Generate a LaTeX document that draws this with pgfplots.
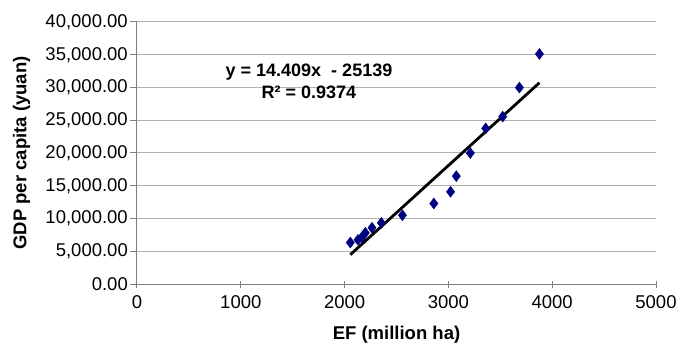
\documentclass[border=0pt]{standalone}
\usepackage{pgfplots}
\pgfplotsset{compat=1.18}
\usepackage{fontspec}
\setmainfont{Liberation Sans}
\definecolor{navyblue}{RGB}{0,0,128}
\definecolor{gridgray}{RGB}{176,176,176}
\definecolor{axisgray}{RGB}{128,128,128}
\begin{document}
\fontsize{18bp}{22bp}\selectfont
\begin{tikzpicture}
\begin{axis}[
  at={(0,0)}, anchor=south west,
  scale only axis, width=519bp, height=262bp,
  xmin=0, xmax=5000, ymin=0, ymax=40000,
  xtick={0,1000,...,5000}, ytick={0,5000,...,40000},
  axis x line=bottom, axis y line=left,
  axis line style={-, axisgray, line width=1bp},
  every tick/.style={axisgray, line width=1bp},
  major tick length=7bp,
  xtick align=center, ytick align=outside,
  ymajorgrids, grid style={gridgray, line width=1bp},
  /pgf/number format/assume math mode=true,
  yticklabel style={/pgf/number format/.cd, fixed, fixed zerofill, precision=2, 1000 sep={,}, /tikz/xshift=4bp},
  xticklabel style={/pgf/number format/.cd, fixed, 1000 sep={}, /tikz/yshift=-2bp},
  scaled ticks=false,
  tick label style={font=\fontsize{18.5bp}{22bp}\selectfont},
  label style={font=\fontsize{18.5bp}{22bp}\selectfont\bfseries},
  xlabel={EF (million ha)},
  ylabel={GDP per capita (yuan)},
  xlabel style={yshift=-5bp},
  ylabel style={yshift=3bp},
  clip=false,
]
\addplot[only marks, mark=diamond*, mark size=5.5bp, navyblue, mark options={fill=navyblue, draw=navyblue}] coordinates {
  (2055,6330) (2129,6740) (2167,7140) (2200,7810) (2264,8580)
  (2354,9340) (2557,10500) (2860,12290) (3021,14080) (3076,16470)
  (3211,19990) (3359,23760) (3523,25550) (3684,29990) (3877,35120)
};
\addplot[black, line width=2.8bp] coordinates {(2055,4472) (3877,30724)};
\node[font=\fontsize{18bp}{22bp}\selectfont\bfseries, align=center] at (axis cs:1657,30900) {y = 14.409x \ - 25139\\R² = 0.9374};
\end{axis}
\pgfresetboundingbox
\path (-137bp,-64bp) rectangle (541bp,284bp);
\end{tikzpicture}
\end{document}
